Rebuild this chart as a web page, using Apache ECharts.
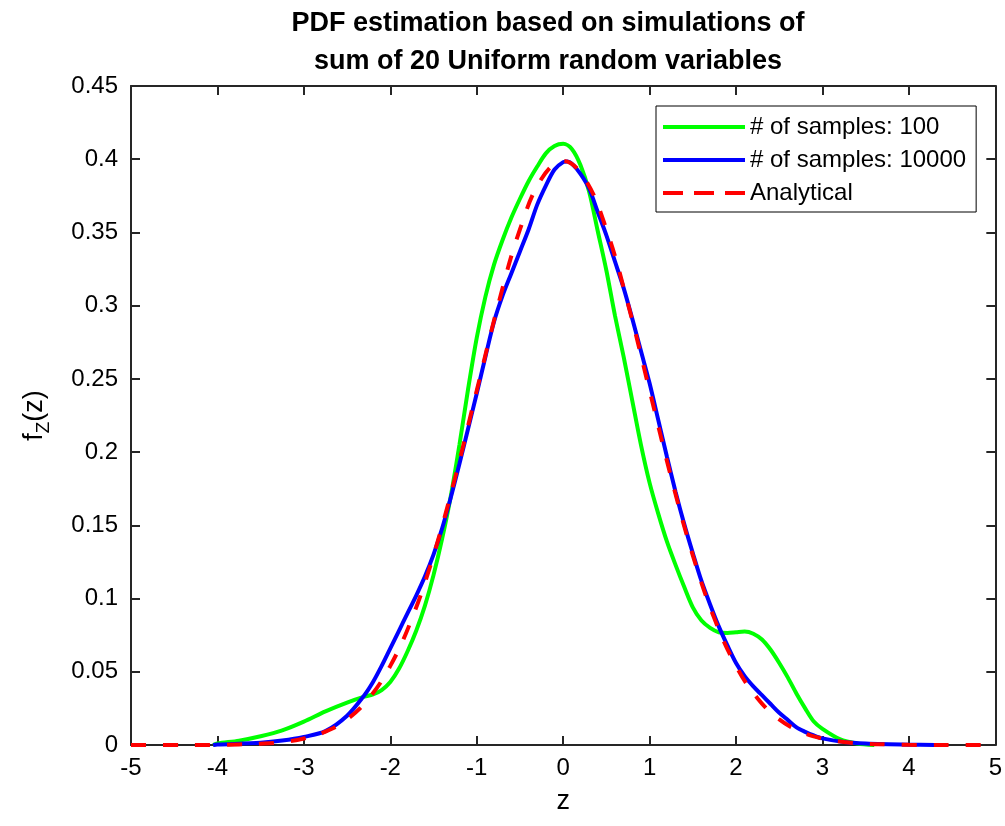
<!DOCTYPE html>
<html>
<head>
<meta charset="utf-8">
<script src="https://cdn.jsdelivr.net/npm/echarts@6/dist/echarts.min.js"></script>
<style>
html,body{margin:0;padding:0;background:#fff;}
#chart{width:1005px;height:826px;}
</style>
</head>
<body>
<div id="chart"></div>
<script>
// ---- data ----
const titleText = 'PDF estimation based on simulations of\nsum of 20 Uniform random variables';
const seriesNames = ['# of samples: 100', '# of samples: 10000', 'Analytical'];
const xTicks = [-5, -4, -3, -2, -1, 0, 1, 2, 3, 4, 5];
const yTicks = [0, 0.05, 0.1, 0.15, 0.2, 0.25, 0.3, 0.35, 0.4, 0.45];

const greenX = [-4.05,-4.0,-3.75,-3.5,-3.25,-3.0,-2.75,-2.5,-2.3,-2.2,-2.1,-2.0,-1.9,-1.8,-1.7,-1.6,-1.5,-1.4,-1.3,-1.2,-1.1,-1.0,-0.9,-0.8,-0.7,-0.6,-0.5,-0.4,-0.3,-0.2,-0.1,0.0,0.1,0.2,0.3,0.4,0.5,0.6,0.7,0.8,0.9,1.0,1.1,1.2,1.3,1.4,1.5,1.6,1.7,1.8,1.9,2.0,2.1,2.2,2.3,2.4,2.5,2.6,2.7,2.8,2.9,3.0,3.2,3.4,3.6];
const greenY = [0.000,0.001,0.003,0.006,0.010,0.016,0.023,0.029,0.033,0.0345,0.0375,0.043,0.052,0.064,0.078,0.095,0.116,0.141,0.170,0.205,0.243,0.278,0.306,0.328,0.345,0.360,0.373,0.385,0.395,0.404,0.409,0.4105,0.407,0.396,0.378,0.351,0.324,0.293,0.265,0.235,0.205,0.179,0.158,0.139,0.123,0.108,0.094,0.085,0.080,0.077,0.0765,0.077,0.0775,0.076,0.072,0.065,0.056,0.046,0.035,0.025,0.016,0.011,0.004,0.001,0.000];

const blueX = [-4.05,-4.0,-3.5,-3.25,-3.0,-2.75,-2.5,-2.3,-2.2,-2.1,-2.0,-1.9,-1.8,-1.7,-1.6,-1.5,-1.4,-1.3,-1.2,-1.1,-1.0,-0.9,-0.8,-0.7,-0.6,-0.5,-0.4,-0.3,-0.2,-0.1,0.0,0.05,0.1,0.2,0.3,0.4,0.5,0.6,0.7,0.8,0.9,1.0,1.1,1.2,1.3,1.4,1.5,1.6,1.7,1.8,1.9,2.0,2.1,2.2,2.3,2.4,2.5,2.6,2.7,2.8,2.9,3.0,3.25,3.5,4.0,4.3];
const blueY = [0.0,0.0003,0.0015,0.003,0.0055,0.0095,0.020,0.034,0.043,0.054,0.066,0.078,0.090,0.102,0.115,0.130,0.148,0.169,0.192,0.216,0.240,0.265,0.289,0.307,0.322,0.337,0.352,0.369,0.382,0.393,0.398,0.3985,0.397,0.390,0.380,0.364,0.348,0.330,0.312,0.291,0.269,0.247,0.222,0.197,0.173,0.151,0.131,0.112,0.096,0.081,0.068,0.056,0.047,0.040,0.034,0.028,0.022,0.017,0.012,0.009,0.0065,0.0045,0.002,0.001,0.0002,0.0];

const redX = [-5,-4.75,-4.5,-4.25,-4,-3.75,-3.5,-3.25,-3,-2.75,-2.5,-2.25,-2,-1.75,-1.5,-1.25,-1,-0.75,-0.5,-0.25,0,0.25,0.5,0.75,1,1.25,1.5,1.75,2,2.25,2.5,2.75,3,3.25,3.5,3.75,4,4.25,4.5,4.75,5];
const redY = [0.0000,0.0000,0.0000,0.0000,0.0001,0.0004,0.0009,0.0020,0.0044,0.0091,0.0175,0.0317,0.0540,0.0863,0.1295,0.1826,0.2420,0.3011,0.3521,0.3867,0.3989,0.3867,0.3521,0.3011,0.2420,0.1826,0.1295,0.0863,0.0540,0.0317,0.0175,0.0091,0.0044,0.0020,0.0009,0.0004,0.0001,0.0000,0.0000,0.0000,0.0000];

const zip = (xs, ys) => xs.map((x, i) => [x, ys[i]]);

const FONT = '"Liberation Sans", Arial, Helvetica, sans-serif';
const AX = '#262626';
const fmtY = v => String(+(+v).toFixed(2));

const chart = echarts.init(document.getElementById('chart'), null, {renderer: 'canvas'});
const commonX = {
  type: 'value', min: xTicks[0], max: xTicks[xTicks.length - 1], interval: 1,
  splitLine: {show: false},
  axisLine: {show: true, onZero: false, lineStyle: {color: AX, width: 2}},
  axisTick: {show: true, inside: true, length: 9, lineStyle: {color: AX, width: 2}}
};
const commonY = {
  type: 'value', min: yTicks[0], max: yTicks[yTicks.length - 1], interval: 0.05,
  splitLine: {show: false},
  axisLine: {show: true, onZero: false, lineStyle: {color: AX, width: 2}},
  axisTick: {show: true, inside: true, length: 9, lineStyle: {color: AX, width: 2}}
};

const solidIcon = 'path://M0,0h82v4h-82z';
const dashIcon = 'path://M0,0h20v4h-20zM31,0h20v4h-20zM62,0h20v4h-20z';

chart.setOption({
  animation: false,
  backgroundColor: '#fff',
  textStyle: {fontFamily: FONT},
  title: {
    text: titleText,
    left: 543, top: 0, textAlign: 'center',
    textStyle: {fontFamily: FONT, fontWeight: 'bold', fontSize: 27, lineHeight: 38, color: '#000'}
  },
  grid: {left: 131, right: 9, top: 86, bottom: 81, containLabel: false},
  legend: {
    orient: 'vertical', left: 656, top: 106,
    itemWidth: 82, itemHeight: 4, itemGap: 5,
    padding: [7, 10, 5, 7],
    borderColor: '#000', borderWidth: 1, backgroundColor: '#fff',
    itemStyle: {borderWidth: 0},
    textStyle: {fontFamily: FONT, fontSize: 24, lineHeight: 28, color: '#000'},
    data: [
      {name: seriesNames[0], icon: solidIcon},
      {name: seriesNames[1], icon: solidIcon},
      {name: seriesNames[2], icon: dashIcon}
    ]
  },
  xAxis: [
    Object.assign({}, commonX, {
      position: 'bottom',
      name: 'z', nameLocation: 'middle', nameGap: 43,
      nameTextStyle: {fontFamily: FONT, fontSize: 27, color: '#000'},
      axisLabel: {fontFamily: FONT, fontSize: 24, color: '#000', margin: 11, formatter: v => String(v)}
    }),
    Object.assign({}, commonX, {position: 'top', axisLabel: {show: false}})
  ],
  yAxis: [
    Object.assign({}, commonY, {
      position: 'left',
      name: '{n|f}{s|Z}{n|(z)}', nameLocation: 'middle', nameGap: 80, nameRotate: 90,
      nameTextStyle: {
        fontFamily: FONT, color: '#000',
        rich: {
          n: {fontFamily: FONT, fontSize: 27, color: '#000', lineHeight: 30, verticalAlign: 'top'},
          s: {fontFamily: FONT, fontSize: 19, color: '#000', lineHeight: 30, verticalAlign: 'top', padding: [13, 0, 0, 0]}
        }
      },
      axisLabel: {fontFamily: FONT, fontSize: 24, color: '#000', margin: 13, formatter: fmtY}
    }),
    Object.assign({}, commonY, {position: 'right', axisLabel: {show: false}})
  ],
  series: [
    {
      name: seriesNames[0], type: 'line', data: zip(greenX, greenY),
      showSymbol: false, symbol: 'none', smooth: 0.3,
      lineStyle: {color: '#00ff00', width: 4}, itemStyle: {color: '#00ff00'}, z: 2
    },
    {
      name: seriesNames[1], type: 'line', data: zip(blueX, blueY),
      showSymbol: false, symbol: 'none', smooth: 0.3,
      lineStyle: {color: '#0000ff', width: 4}, itemStyle: {color: '#0000ff'}, z: 3
    },
    {
      name: seriesNames[2], type: 'line', data: zip(redX, redY),
      showSymbol: false, symbol: 'none', smooth: 0.4,
      lineStyle: {color: '#ff0000', width: 4, type: [15, 17]}, itemStyle: {color: '#ff0000'}, z: 4
    }
  ]
});
</script>
</body>
</html>
